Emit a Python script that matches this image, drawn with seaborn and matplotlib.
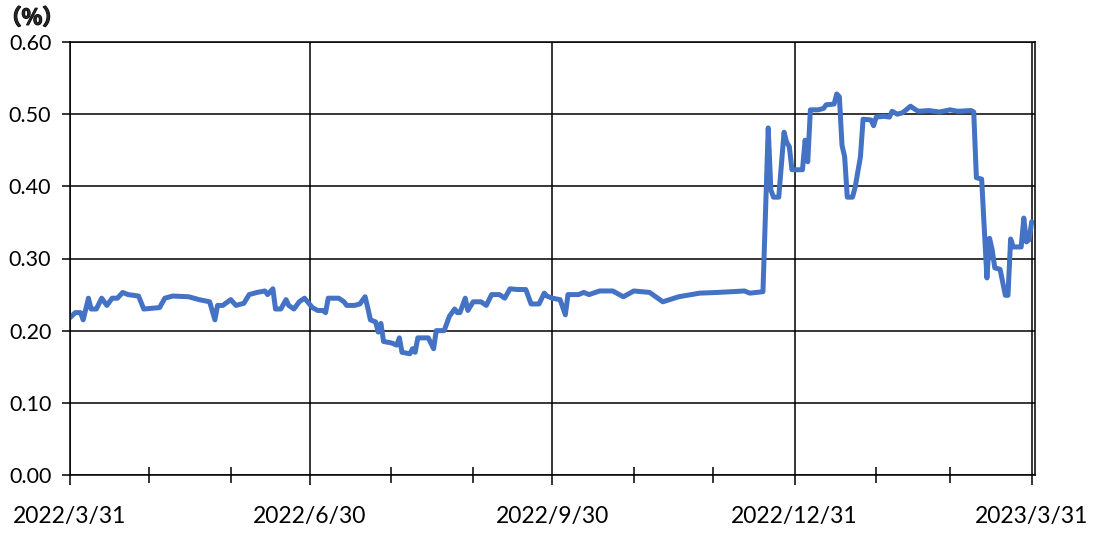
import pandas as pd
import numpy as np
import matplotlib
matplotlib.use("Agg")
import matplotlib.pyplot as plt
import matplotlib.dates as mdates
import matplotlib.patheffects as pe
import seaborn as sns

# -----------------------------
# DATA
# -----------------------------
dates = [
    "2022-03-31", "2022-04-02", "2022-04-04", "2022-04-05", "2022-04-07", "2022-04-08",
    "2022-04-10", "2022-04-12", "2022-04-14", "2022-04-16", "2022-04-18", "2022-04-20",
    "2022-04-22", "2022-04-26", "2022-04-28", "2022-05-04", "2022-05-06", "2022-05-09",
    "2022-05-15", "2022-05-19", "2022-05-23", "2022-05-25", "2022-05-26", "2022-05-28",
    "2022-05-31", "2022-06-02", "2022-06-05", "2022-06-07", "2022-06-10", "2022-06-13",
    "2022-06-14", "2022-06-16", "2022-06-17", "2022-06-19", "2022-06-21", "2022-06-22",
    "2022-06-24", "2022-06-26", "2022-06-28", "2022-07-01", "2022-07-03", "2022-07-05",
    "2022-07-06", "2022-07-07", "2022-07-11", "2022-07-13", "2022-07-14", "2022-07-17",
    "2022-07-19", "2022-07-21", "2022-07-22", "2022-07-23", "2022-07-25", "2022-07-26",
    "2022-07-27", "2022-07-28", "2022-07-31", "2022-08-02", "2022-08-03", "2022-08-04",
    "2022-08-07", "2022-08-08", "2022-08-09", "2022-08-10", "2022-08-14", "2022-08-16",
    "2022-08-17", "2022-08-20", "2022-08-22", "2022-08-24", "2022-08-25", "2022-08-26",
    "2022-08-28", "2022-08-29", "2022-08-31", "2022-09-03", "2022-09-05", "2022-09-07",
    "2022-09-10", "2022-09-12", "2022-09-14", "2022-09-17", "2022-09-20", "2022-09-22",
    "2022-09-25", "2022-09-27", "2022-09-28", "2022-09-30", "2022-10-03", "2022-10-05",
    "2022-10-06", "2022-10-10", "2022-10-12", "2022-10-14", "2022-10-18", "2022-10-23",
    "2022-10-27", "2022-10-31", "2022-11-06", "2022-11-11", "2022-11-17", "2022-11-25",
    "2022-12-02", "2022-12-12", "2022-12-14", "2022-12-19", "2022-12-21", "2022-12-22",
    "2022-12-23", "2022-12-25", "2022-12-27", "2022-12-28", "2022-12-29", "2022-12-30",
    "2023-01-03", "2023-01-04", "2023-01-05", "2023-01-06", "2023-01-09", "2023-01-11",
    "2023-01-12", "2023-01-15", "2023-01-16", "2023-01-17", "2023-01-18", "2023-01-19",
    "2023-01-20", "2023-01-22", "2023-01-23", "2023-01-25", "2023-01-26", "2023-01-29",
    "2023-01-30", "2023-01-31", "2023-02-03", "2023-02-05", "2023-02-06", "2023-02-08",
    "2023-02-10", "2023-02-13", "2023-02-15", "2023-02-16", "2023-02-20", "2023-02-24",
    "2023-02-28", "2023-03-03", "2023-03-08", "2023-03-09", "2023-03-10", "2023-03-12",
    "2023-03-14", "2023-03-15", "2023-03-16", "2023-03-17", "2023-03-19", "2023-03-21",
    "2023-03-22", "2023-03-23", "2023-03-24", "2023-03-27", "2023-03-28", "2023-03-29",
    "2023-03-30", "2023-03-31",
]
rates = [
    0.218, 0.225, 0.225, 0.215, 0.245, 0.230,
    0.230, 0.245, 0.235, 0.245, 0.245, 0.253,
    0.250, 0.248, 0.230, 0.232, 0.245, 0.248,
    0.247, 0.243, 0.240, 0.215, 0.235, 0.235,
    0.243, 0.235, 0.238, 0.250, 0.253, 0.255,
    0.250, 0.258, 0.230, 0.230, 0.243, 0.235,
    0.230, 0.240, 0.245, 0.232, 0.228, 0.228,
    0.225, 0.245, 0.245, 0.240, 0.235, 0.235,
    0.237, 0.247, 0.232, 0.215, 0.212, 0.198,
    0.210, 0.185, 0.183, 0.180, 0.190, 0.170,
    0.168, 0.175, 0.170, 0.190, 0.190, 0.175,
    0.200, 0.200, 0.220, 0.230, 0.225, 0.225,
    0.245, 0.228, 0.240, 0.240, 0.235, 0.250,
    0.250, 0.245, 0.258, 0.257, 0.257, 0.237,
    0.237, 0.252, 0.248, 0.245, 0.243, 0.222,
    0.250, 0.250, 0.253, 0.250, 0.255, 0.255,
    0.247, 0.255, 0.253, 0.240, 0.247, 0.252,
    0.253, 0.255, 0.252, 0.254, 0.481, 0.395,
    0.385, 0.385, 0.475, 0.461, 0.455, 0.423,
    0.423, 0.464, 0.434, 0.506, 0.506, 0.508,
    0.513, 0.514, 0.528, 0.524, 0.457, 0.441,
    0.385, 0.385, 0.399, 0.441, 0.493, 0.492,
    0.484, 0.496, 0.497, 0.496, 0.504, 0.500,
    0.502, 0.511, 0.506, 0.504, 0.505, 0.503,
    0.506, 0.504, 0.505, 0.503, 0.412, 0.410,
    0.273, 0.328, 0.312, 0.287, 0.285, 0.249,
    0.249, 0.327, 0.316, 0.316, 0.356, 0.323,
    0.326, 0.351,
]

quarter_ends = ["2022-03-31", "2022-06-30", "2022-09-30", "2022-12-31", "2023-03-31"]
quarter_labels = ["2022/3/31", "2022/6/30", "2022/9/30", "2022/12/31", "2023/3/31"]
month_ends = ["2022-04-30", "2022-05-31", "2022-07-31", "2022-08-31", "2022-10-31",
              "2022-11-30", "2023-01-31", "2023-02-28"]
y_ticks = [0.0, 0.1, 0.2, 0.3, 0.4, 0.5, 0.6]

df = pd.DataFrame({"date": pd.to_datetime(dates), "rate": rates})

# -----------------------------
# PLOT
# -----------------------------
sns.set_style("white")
plt.rcParams["font.family"] = ["Lato", "Noto Sans CJK JP", "DejaVu Sans"]

fig = plt.figure(figsize=(11.02, 5.34), dpi=100)
ax = fig.add_axes([70 / 1102, 59 / 534, 965 / 1102, 433 / 534])

sns.lineplot(data=df, x="date", y="rate", ax=ax, color="#4472C4",
             linewidth=3.6, estimator=None)

ax.set_ylim(0, 0.6)
ax.set_xlim(pd.Timestamp("2022-03-31"), pd.Timestamp("2023-04-01 06:00"))

major = mdates.date2num(pd.to_datetime(quarter_ends))
minor = mdates.date2num(pd.to_datetime(month_ends))
ax.set_xticks(major)
ax.set_xticklabels(quarter_labels, fontsize=16.5)
ax.set_xticks(minor, minor=True)
ax.set_yticks(y_ticks)
ax.set_yticklabels(["{:.2f}".format(v) for v in y_ticks], fontsize=15.5)

ax.grid(True, which="major", color="black", linewidth=1.1)
ax.grid(False, which="minor")
ax.set_axisbelow(True)
for s in ax.spines.values():
    s.set_color("black")
    s.set_linewidth(1.1)

ax.tick_params(axis="x", which="both", bottom=True, top=False)
ax.tick_params(axis="y", which="both", left=True, right=False)
ax.tick_params(axis="x", which="major", direction="out", length=7.5, width=1.1,
               pad=15, colors="black")
ax.tick_params(axis="x", which="minor", direction="inout", length=11, width=1.1,
               color="black")
ax.tick_params(axis="y", which="major", direction="out", length=5.5, width=1.1,
               pad=8, colors="black")
ax.set_xlabel("")
ax.set_ylabel("")

# unit label, thickened a little to look bold
fig.text(32 / 1102, 1 - 18 / 534, "（%）", fontsize=15.5, fontweight="bold",
         ha="center", va="center", family=["Noto Sans CJK JP", "DejaVu Sans"],
         path_effects=[pe.withStroke(linewidth=0.9, foreground="black")])

plt.savefig("out.png", dpi=100)
